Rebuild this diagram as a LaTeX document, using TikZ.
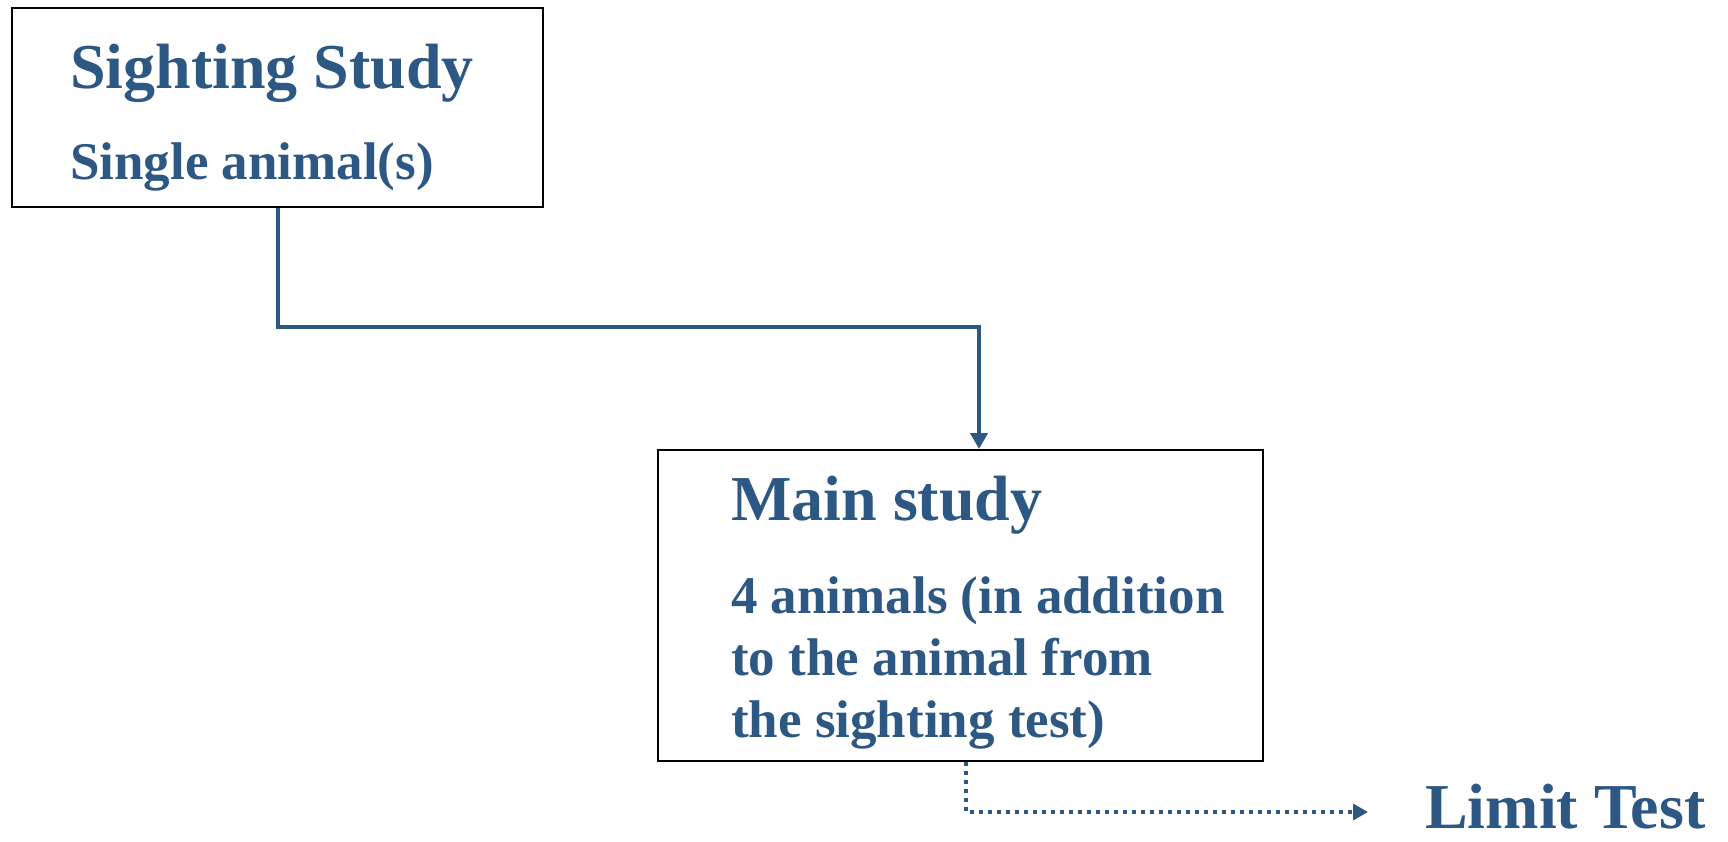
\documentclass[tikz,border=0pt]{standalone}
\usepackage{fontspec}
\setmainfont{Liberation Serif}
\usetikzlibrary{arrows.meta}

\definecolor{studyblue}{RGB}{46,88,132}

\begin{document}
\begin{tikzpicture}[x=1pt,y=-1pt,
  box/.style={draw=black,line width=2pt,inner sep=0pt},
  head/.style={anchor=base west,inner sep=0pt,text=studyblue,font=\fontsize{64}{64}\selectfont\bfseries},
  body/.style={anchor=base west,inner sep=0pt,text=studyblue,font=\fontsize{53}{62}\selectfont\bfseries},
  flow/.style={studyblue,line width=4pt,-{Triangle[length=16pt,width=17pt]}},
  dotflow/.style={studyblue,line width=3.5pt,dash pattern=on 3.5pt off 5.5pt,-{Triangle[length=15pt,width=16pt]}}]
\useasboundingbox (0,0) rectangle (1728,841);

% Boxes
\node[box,minimum width=531pt,minimum height=199pt] (sight) at (277.5,107.5) {};
\node[box,minimum width=605pt,minimum height=311pt] (main) at (960.5,605.5) {};

% Texts
\node[head] (sighttitle) at (70,88) {Sighting Study};
\node[body] (sighttext) at (70,179) {Single animal(s)};
\node[head] (maintitle) at (731,520) {Main study};
\node[body] (mainline1) at (731,613) {4 animals (in addition};
\node[body] (mainline2) at (731,675) {to the animal from};
\node[body] (mainline3) at (731,737) {the sighting test)};
\node[head,text depth=0pt,font=\fontsize{64}{64}\selectfont\bfseries] (limit) at (1425,828) {Limit Test};

% Connectors
\coordinate (elbow) at (979,327);
\draw[flow] (sight.south) |- (elbow) -- (elbow |- main.north);
\coordinate (turn) at (966,812);
\coordinate (tip) at (1368,812);
\draw[dotflow] (turn |- main.south) -- (turn) -- (tip);
\end{tikzpicture}
\end{document}
